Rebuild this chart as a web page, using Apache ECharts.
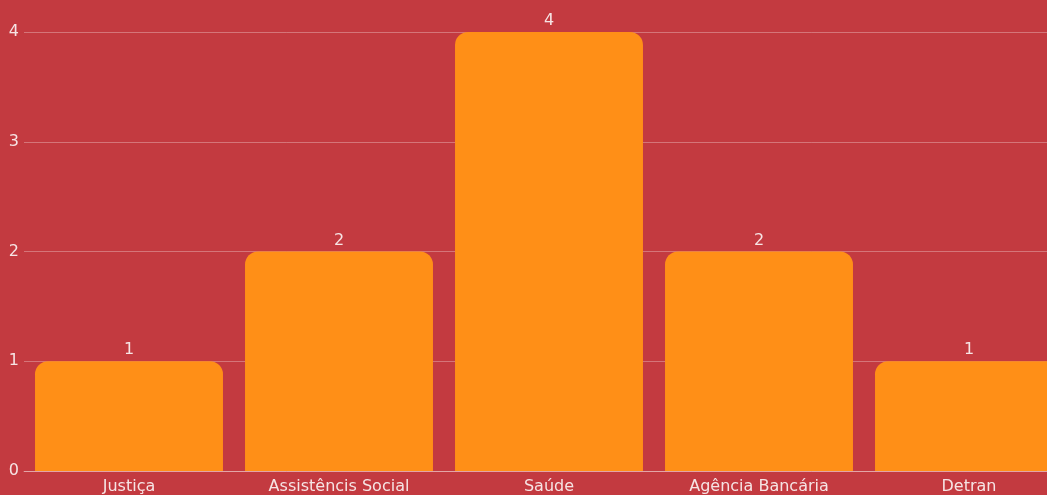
<!DOCTYPE html>
<html>
<head>
<meta charset="utf-8">
<script src="https://cdn.jsdelivr.net/npm/echarts@6/dist/echarts.min.js"></script>
<style>
  html, body { margin: 0; padding: 0; background: #C33A40; overflow: hidden; }
  /* the plot runs past the right edge of the window, so the last bar is cut off */
  #chart { width: 1074px; height: 495px; }
</style>
</head>
<body>
<div id="chart"></div>
<script>
// Atendimentos por setor
const categories = ['Justiça', 'Assistêncis Social', 'Saúde', 'Agência Bancária', 'Detran'];
const values = [1, 2, 4, 2, 1];
const yTicks = [0, 1, 2, 3, 4];

const textColor = '#F6E4E4';
const fontFamily = '"DejaVu Sans", "Open Sans", sans-serif';

const chart = echarts.init(document.getElementById('chart'));
chart.setOption({
  backgroundColor: '#C33A40',
  animation: false,
  grid: { left: 24, right: 0, top: 32, bottom: 24, containLabel: false },
  xAxis: {
    type: 'category',
    data: categories,
    axisLine: { show: true, lineStyle: { color: 'rgba(255,255,255,0.35)', width: 1 } },
    axisTick: { show: false },
    axisLabel: { color: textColor, fontSize: 16, fontFamily: fontFamily, margin: 8 }
  },
  yAxis: {
    type: 'value',
    min: yTicks[0],
    max: yTicks[yTicks.length - 1],
    interval: 1,
    axisLine: { show: false },
    axisTick: { show: false },
    splitLine: { lineStyle: { color: 'rgba(255,255,255,0.3)', width: 1 } },
    axisLabel: { color: textColor, fontSize: 16, fontFamily: fontFamily, margin: 5 }
  },
  series: [{
    type: 'bar',
    data: values,
    barCategoryGap: '10.5%',
    itemStyle: { color: '#FF8F17', borderRadius: [13, 13, 0, 0] },
    label: {
      show: true,
      position: 'top',
      distance: 3,
      color: textColor,
      fontSize: 16,
      fontFamily: fontFamily
    }
  }]
});
</script>
</body>
</html>
